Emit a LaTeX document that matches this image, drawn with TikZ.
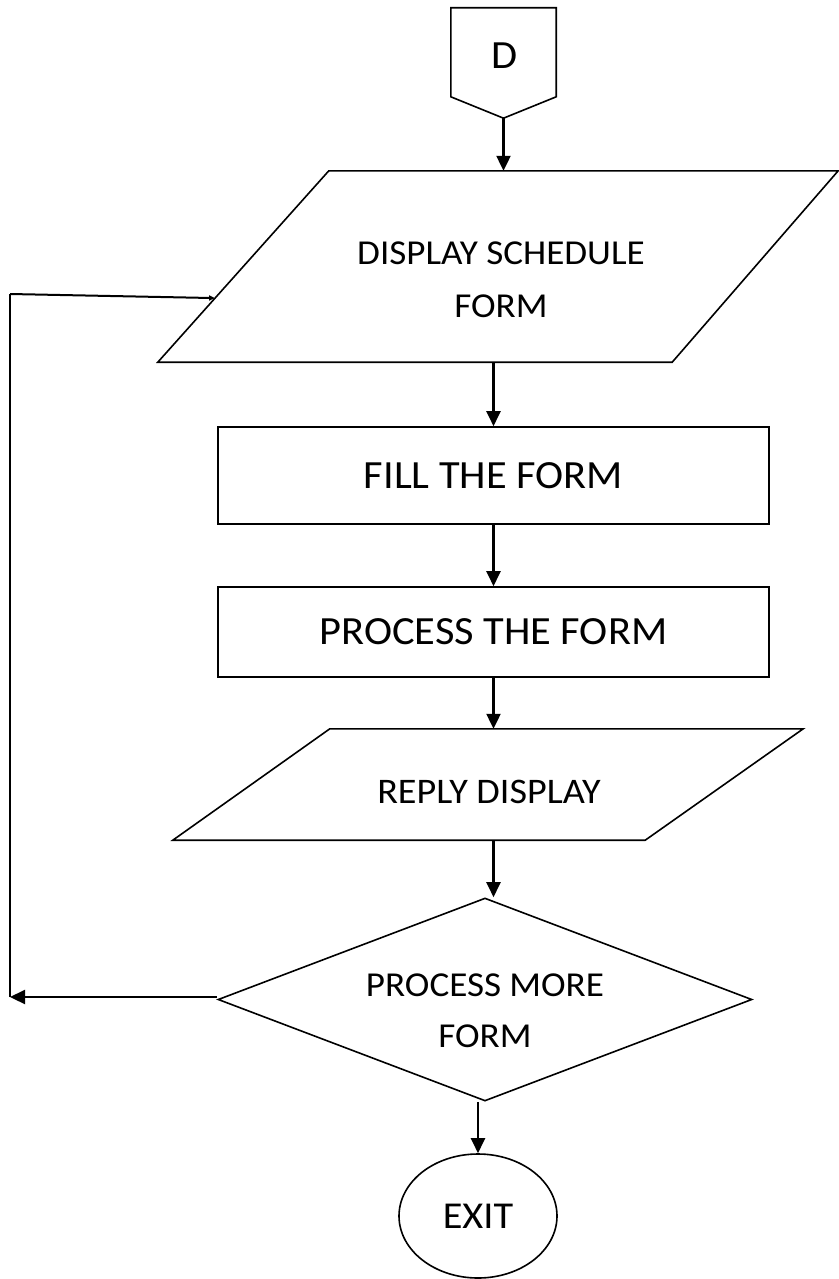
\documentclass[tikz,border=0pt]{standalone}
\usepackage{fontspec}
\setmainfont{Carlito}[FakeStretch=1.06]
\usetikzlibrary{arrows.meta,calc,shapes.geometric}

\tikzset{
  shapeline/.style={draw=black, line width=1.6pt},
  boxbase/.style={rectangle, inner sep=0pt},
  txt/.style={inner sep=0pt, align=center, text=black},
  flow/.style={line width=2.2pt, -{Triangle[length=15pt,width=14pt]}},
  tinyflow/.style={line width=2pt, -{Triangle[length=6pt,width=5pt]}},
  plainline/.style={line width=2pt},
}

\begin{document}
\begin{tikzpicture}[x=1pt,y=-1pt]
  \fill[white] (0,0) rectangle (838,1279);
  \useasboundingbox (0,0) rectangle (838,1279);

  % off-page connector D
  \node[boxbase, minimum width=105pt, minimum height=110pt] (dbox) at (503.5,63) {};
  \draw[shapeline, line join=miter] (dbox.north west) -- (dbox.north east)
        -- ($(dbox.north east)+(0,89)$) -- (dbox.south)
        -- ($(dbox.north west)+(0,89)$) -- cycle;
  \node[txt, font=\fontsize{40}{46}\selectfont] (dlbl) at (505,56) {D};

  % input/output: display schedule form
  \node[boxbase, minimum width=680pt, minimum height=191pt] (p1) at (498,266.5) {};
  \draw[shapeline] ($(p1.north west)+(171,0)$) coordinate (p1tl)
        -- (p1.north east) -- ($(p1.south east)-(166,0)$)
        -- (p1.south west) coordinate (p1bl) -- cycle;
  \node[txt, font=\fontsize{35}{53}\selectfont] (p1t) at (501,279.5) {DISPLAY SCHEDULE\\FORM};

  % process boxes
  \node[boxbase, shapeline, minimum width=551pt, minimum height=97pt,
        font=\fontsize{40}{48}\selectfont] (fill) at (493.5,475.5) {FILL THE FORM};
  \node[boxbase, shapeline, minimum width=551pt, minimum height=90pt,
        font=\fontsize{40}{48}\selectfont] (proc) at (493.5,632) {PROCESS THE FORM};

  % input/output: reply display
  \node[boxbase, minimum width=630pt, minimum height=111pt] (p2) at (488,784.5) {};
  \draw[shapeline] ($(p2.north west)+(157,0)$) -- (p2.north east)
        -- ($(p2.south east)-(158,0)$) -- (p2.south west) -- cycle;
  \node[txt, font=\fontsize{36}{42}\selectfont] (p2t) at (489,792) {REPLY DISPLAY};

  % decision
  \node[diamond, shapeline, inner sep=0pt, minimum width=534pt, minimum height=203pt] (dm) at (485,999.5) {};
  \node[txt, font=\fontsize{35}{51}\selectfont] (dmt) at (485,1010.5) {PROCESS MORE\\FORM};

  % terminator
  \node[ellipse, shapeline, inner sep=0pt, minimum width=158pt, minimum height=124pt,
        font=\fontsize{38}{45}\selectfont] (exit) at (478,1216) {EXIT};

  % main flow
  \draw[flow] (dbox.south) -- (dbox.south |- p1.north);
  \draw[flow] (fill.north |- p1.south) -- (fill.north);
  \draw[flow] (proc.north |- fill.south) -- (proc.north);
  \draw[flow] (proc.south) -- (proc.south |- p2.north);
  \draw[flow] (proc.south |- p2.south) -- (proc.south |- dm.north);
  \draw[flow] (exit.north |- dm.south) -- (exit.north);

  % loop back to the schedule form
  \coordinate (lbot) at (10,997);
  \coordinate (ltop) at (10,294);
  \coordinate (p1in) at ($(p1bl)!0.335!(p1tl)$);
  \draw[flow] (dm.west |- lbot) -- (lbot);
  \draw[plainline] (lbot) -- (ltop);
  \draw[tinyflow] (ltop) -- (p1in);
\end{tikzpicture}
\end{document}
